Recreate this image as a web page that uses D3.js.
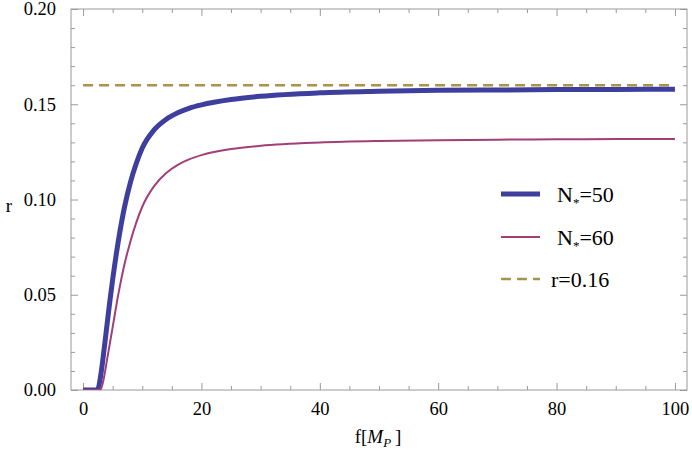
<!DOCTYPE html>
<html>
<head>
<meta charset="utf-8">
<script src="https://cdn.jsdelivr.net/npm/d3@7"></script>
<style>
  body { margin: 0; background: #fff; }
  text { font-family: "Liberation Serif", "DejaVu Serif", serif; }
</style>
</head>
<body>
<div class="chart"></div>
<script>
// values
let fValues = [0, 1, 2, 2.5, 3, 3.5, 4, 4.5, 5, 6, 7, 8, 9, 10, 12, 14, 16, 18, 20, 25, 30, 40, 50, 60, 70, 80, 90, 100];
let rN50 = [0, 0, 0, 0.0005, 0.008, 0.020, 0.033, 0.046, 0.058, 0.079, 0.096, 0.109, 0.119, 0.127, 0.1365, 0.142, 0.1455, 0.148, 0.1497, 0.1525, 0.1542, 0.156, 0.1568, 0.1573, 0.1575, 0.1577, 0.1578, 0.1579];
let rN60 = [0, 0, 0, 0, 0.0005, 0.006, 0.015, 0.024, 0.033, 0.051, 0.066, 0.078, 0.088, 0.0962, 0.107, 0.1138, 0.1182, 0.1212, 0.1233, 0.1265, 0.1282, 0.1299, 0.1307, 0.1311, 0.1314, 0.1316, 0.1317, 0.1318];
let rLine = 0.16;

let xMajor = [0, 20, 40, 60, 80, 100];
let xMinor = [5, 10, 15, 25, 30, 35, 45, 50, 55, 65, 70, 75, 85, 90, 95];
let yMajor = [0, 0.05, 0.10, 0.15, 0.20];
let yMinor = [0.01, 0.02, 0.03, 0.04, 0.06, 0.07, 0.08, 0.09, 0.11, 0.12, 0.13, 0.14, 0.16, 0.17, 0.18, 0.19];

let legendLabels = ["50", "60"];

let w = 692, h = 452;
let mLeft = 71, mRight = 687, mTop = 9, mBottom = 390;

let svg = d3.select(".chart").append("svg")
    .attr("width", w)
    .attr("height", h);

let x = d3.scaleLinear().domain([-2.04, 102.04]).range([mLeft, mRight]);
let y = d3.scaleLinear().domain([0, 0.2]).range([mBottom, mTop]);

svg.append("defs").append("clipPath").attr("id", "clip")
    .append("rect")
    .attr("x", mLeft).attr("y", mTop)
    .attr("width", mRight - mLeft).attr("height", mBottom - mTop);

let frameColor = "#9a9a9a";

function styleAxis(g) {
    g.select(".domain").remove();
    g.selectAll("line").attr("stroke", frameColor);
    g.selectAll("text").attr("fill", "#000").attr("font-size", "18.5px")
        .attr("font-family", "Liberation Serif");
}

// bottom
svg.append("g").attr("transform", "translate(0," + mBottom + ")")
    .call(d3.axisBottom(x).tickValues(xMajor).tickSize(-7).tickPadding(12).tickFormat(d3.format("d")))
    .call(styleAxis);
svg.append("g").attr("transform", "translate(0," + mBottom + ")")
    .call(d3.axisBottom(x).tickValues(xMinor).tickSize(-4).tickFormat(""))
    .call(styleAxis);
// top
svg.append("g").attr("transform", "translate(0," + mTop + ")")
    .call(d3.axisTop(x).tickValues(xMajor).tickSize(-7).tickFormat(""))
    .call(styleAxis);
svg.append("g").attr("transform", "translate(0," + mTop + ")")
    .call(d3.axisTop(x).tickValues(xMinor).tickSize(-4).tickFormat(""))
    .call(styleAxis);
// left
svg.append("g").attr("transform", "translate(" + mLeft + ",0)")
    .call(d3.axisLeft(y).tickValues(yMajor).tickSize(-7).tickPadding(15).tickFormat(d3.format(".2f")))
    .call(styleAxis);
svg.append("g").attr("transform", "translate(" + mLeft + ",0)")
    .call(d3.axisLeft(y).tickValues(yMinor).tickSize(-4).tickFormat(""))
    .call(styleAxis);
// right
svg.append("g").attr("transform", "translate(" + mRight + ",0)")
    .call(d3.axisRight(y).tickValues(yMajor).tickSize(-7).tickFormat(""))
    .call(styleAxis);
svg.append("g").attr("transform", "translate(" + mRight + ",0)")
    .call(d3.axisRight(y).tickValues(yMinor).tickSize(-4).tickFormat(""))
    .call(styleAxis);

svg.append("rect")
    .attr("x", mLeft).attr("y", mTop)
    .attr("width", mRight - mLeft).attr("height", mBottom - mTop)
    .attr("fill", "none").attr("stroke", frameColor).attr("stroke-width", 1);

let line = d3.line()
    .x(function (d) { return x(d[0]); })
    .y(function (d) { return y(d[1]); })
    .curve(d3.curveMonotoneX);

let plot = svg.append("g").attr("clip-path", "url(#clip)");

plot.append("line")
    .attr("x1", x(0)).attr("x2", x(100))
    .attr("y1", y(rLine)).attr("y2", y(rLine))
    .attr("stroke", "#a89448").attr("stroke-width", 2.6)
    .attr("stroke-dasharray", "10,6");

plot.append("path")
    .datum(fValues.map(function (f, i) { return [f, rN50[i]]; }))
    .attr("d", line)
    .attr("fill", "none").attr("stroke", "#3e3e9e").attr("stroke-width", 5);

plot.append("path")
    .datum(fValues.map(function (f, i) { return [f, rN60[i]]; }))
    .attr("d", line)
    .attr("fill", "none").attr("stroke", "#a23f78").attr("stroke-width", 2);

// legend
let leg = svg.append("g");
let legItems = [
    { color: "#3e3e9e", width: 5, dash: null, y: 194, n: legendLabels[0] },
    { color: "#a23f78", width: 2, dash: null, y: 237, n: legendLabels[1] },
    { color: "#a89448", width: 2.6, dash: "10,6", y: 279, n: null }
];
legItems.forEach(function (d) {
    leg.append("line")
        .attr("x1", 501).attr("x2", 540)
        .attr("y1", d.y).attr("y2", d.y)
        .attr("stroke", d.color).attr("stroke-width", d.width)
        .attr("stroke-dasharray", d.dash);
    let t = leg.append("text")
        .attr("x", d.n ? 557 : 551).attr("y", d.y + 8)
        .attr("font-size", "22px").attr("fill", "#000");
    if (d.n) {
        t.append("tspan").text("N");
        t.append("tspan").attr("font-size", "13px").attr("dy", 5).text("*");
        t.append("tspan").attr("dy", -5).text("=" + d.n);
    } else {
        t.text("r=" + rLine.toFixed(2));
    }
});

// axis labels
let xl = svg.append("text")
    .attr("x", 378).attr("y", 443)
    .attr("text-anchor", "middle")
    .attr("font-size", "19px").attr("fill", "#000");
xl.append("tspan").text("f[");
xl.append("tspan").attr("font-style", "italic").text("M");
xl.append("tspan").attr("font-style", "italic").attr("font-size", "13px").attr("dy", 4).text("P");
xl.append("tspan").attr("dy", -4).text("\u2009]");

svg.append("text")
    .attr("x", 9).attr("y", 212)
    .attr("text-anchor", "middle")
    .attr("font-size", "19px").attr("fill", "#000")
    .text("r");
</script>
</body>
</html>
